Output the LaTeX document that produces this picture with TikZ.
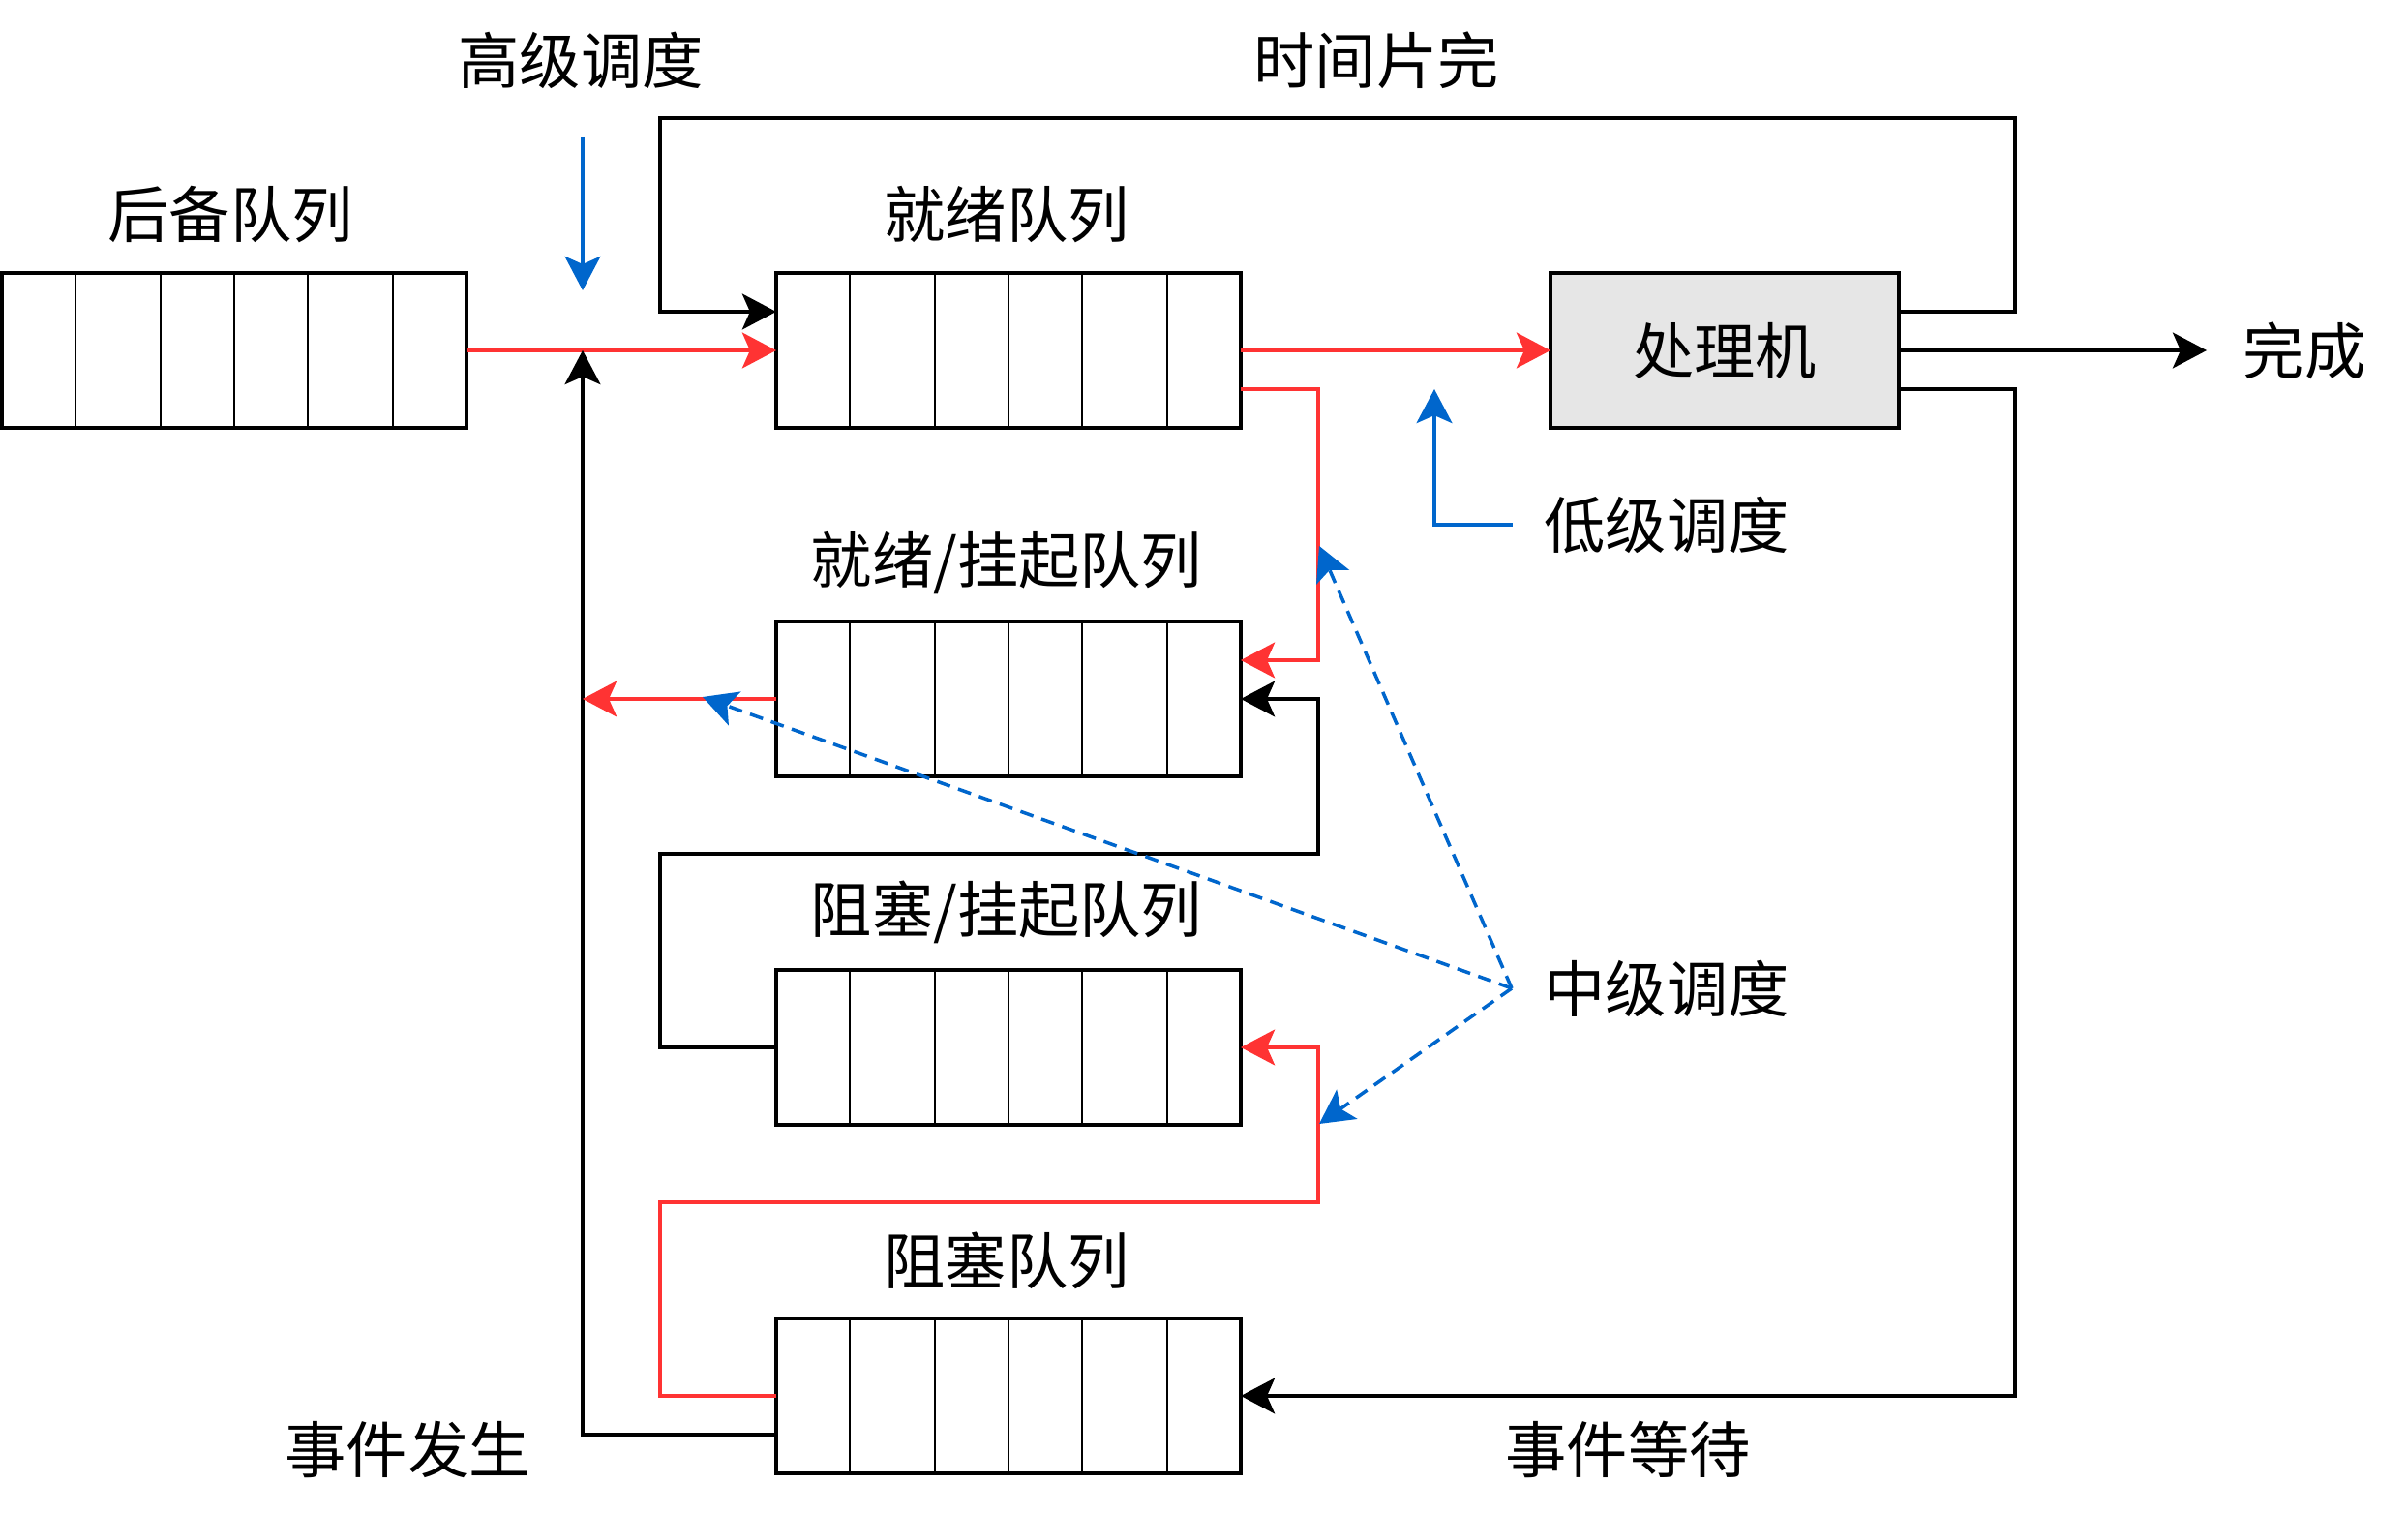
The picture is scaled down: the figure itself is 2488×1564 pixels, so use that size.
\documentclass[tikz,border=0pt]{standalone}
\usepackage{fontspec}
\setmainfont{Noto Sans CJK SC}
\usetikzlibrary{calc}
\usetikzlibrary{arrows.meta}

\definecolor{qred}{HTML}{FF3333}
\definecolor{qblue}{HTML}{0066CC}
\definecolor{cpugray}{HTML}{E6E6E6}

\tikzset{
  queue/.style={draw, line width=1pt, outer sep=0pt, inner sep=0pt, minimum width=4.8cm, minimum height=1.6cm},
  lbl/.style={font=\fontsize{18}{22}\selectfont, inner sep=0pt},
  flow/.style={line width=1pt, -{Stealth[length=10pt, width=10.5pt, inset=2.3pt]}},
  redflow/.style={flow, qred},
  blueflow/.style={flow, qblue},
  sched/.style={blueflow, dash pattern=on 4pt off 2.5pt},
}

\begin{document}
\begin{tikzpicture}[x=.1mm, y=-.1mm]
\useasboundingbox (0,0) rectangle (2488,1564);

% queues
\node[queue] (backup)   at (242,362)  {};
\node[queue] (ready)    at (1042,362) {};
\node[queue] (readysus) at (1042,722) {};
\node[queue] (blocksus) at (1042,1082) {};
\node[queue] (blocked)  at (1042,1442) {};
\node[queue, fill=cpugray, minimum width=3.6cm, lbl] (cpu) at (1782,362) {处理机};

\foreach \q in {backup,ready,readysus,blocksus,blocked}
  \foreach \d in {76,164,240,316,404}
    \draw[line width=.8pt] ($(\q.north west)+(\d,0)$) -- ($(\q.south west)+(\d,0)$);

% labels
\node[lbl] (backuplbl)   at (238,222)   {后备队列};
\node[lbl] (readylbl)    at (1040,222)  {就绪队列};
\node[lbl] (readysuslbl) at (1040,582)  {就绪/挂起队列};
\node[lbl] (blocksuslbl) at (1040,942)  {阻塞/挂起队列};
\node[lbl] (blockedlbl)  at (1040,1302) {阻塞队列};
\node[lbl] (hsched)  at (600,62)    {高级调度};
\node[lbl] (slice)   at (1422,62)   {时间片完};
\node[lbl] (done)    at (2381,362)  {完成};
\node[lbl] (lsched)  at (1722,542)  {低级调度};
\node[lbl] (msched)  at (1722,1021) {中级调度};
\node[lbl] (evocc)   at (421,1497)  {事件发生};
\node[lbl] (evwait)  at (1682,1497) {事件等待};

\coordinate (hstop)  at (602,142);
\coordinate (hsbot)  at (602,300);
\coordinate (hsjoin) at (602,362);
\coordinate (lsarr)  at (1482,402);
\coordinate (ms)     at (1562,1021);

% high level
\draw[redflow] (backup.east) -- (ready.west);
\draw[blueflow] (hstop) -- (hsbot);
\draw[flow] ($(blocked.west)+(0,40)$) -| (hsjoin);

% processor
\draw[redflow] (ready.east) -- (cpu.west);
\draw[flow] (cpu.east) -- ($(done.west)+(-37,0)$);
\draw[flow] ($(cpu.east)+(0,-40)$) -| (2082,122) -| (682,322) -- ($(ready.west)+(0,-40)$);
\draw[flow] ($(cpu.east)+(0,40)$) -| (2082,1442) -- (blocked.east);
\draw[blueflow] ($(lsched.west)+(-32,0)$) -| (lsarr);

% suspend / activate
\draw[redflow] ($(ready.east)+(0,40)$) -| (1362,682) -- ($(readysus.east)+(0,-40)$);
\draw[flow] (blocksus.west) -| (682,882) -| (1362,722) -- (readysus.east);
\draw[redflow] (readysus.west) -- (readysus.west -| hsjoin);
\draw[redflow] (blocked.west) -| (682,1242) -| (1362,1082) -- (blocksus.east);

% middle level
\draw[sched] (ms) -- (1363,564);
\draw[sched] (ms) -- (726,720);
\draw[sched] (ms) -- (1363,1161);

\end{tikzpicture}
\end{document}
